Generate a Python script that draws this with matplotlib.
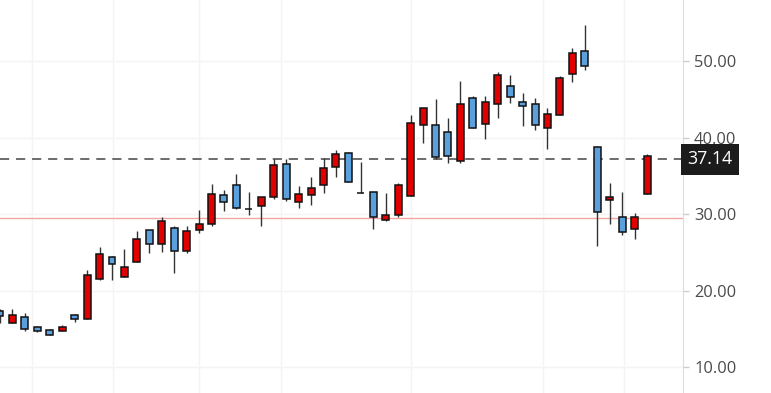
import matplotlib
matplotlib.use("Agg")
import matplotlib.pyplot as plt
import matplotlib.transforms as mtransforms

# candle data (oldest first)
opens = [17.36, 15.80, 16.58, 15.27, 14.88, 14.75, 16.84, 16.32, 21.54, 24.41,
         21.80, 23.76, 27.94, 26.11, 28.20, 25.20, 27.94, 28.72, 32.51, 33.81,
         30.68, 31.07, 32.25, 36.55, 31.59, 32.51, 33.81, 36.16, 37.99, 32.77,
         32.90, 29.24, 29.90, 32.38, 41.64, 41.64, 40.73, 36.95, 45.17, 41.78,
         44.39, 46.74, 44.65, 44.39, 41.25, 42.95, 48.30, 51.31, 38.77, 31.85,
         29.63, 28.07, 32.64]
highs = [17.62, 17.62, 17.10, 15.40, 15.01, 15.53, 16.97, 22.72, 25.72, 24.54,
         25.46, 27.81, 27.94, 29.63, 28.46, 28.46, 30.55, 33.94, 33.16, 35.25,
         32.90, 32.25, 37.21, 37.21, 33.68, 34.86, 37.34, 38.38, 38.12, 36.81,
         32.90, 32.77, 34.07, 42.95, 43.86, 45.04, 42.56, 47.39, 45.43, 45.43,
         48.56, 48.17, 45.82, 45.17, 43.86, 48.04, 51.70, 54.70, 38.90, 34.07,
         32.90, 30.16, 37.86]
lows = [15.80, 15.80, 14.75, 14.62, 14.23, 14.75, 15.93, 16.32, 21.41, 21.41,
        21.80, 23.76, 24.93, 25.07, 22.32, 24.93, 27.55, 28.46, 30.42, 30.68,
        29.90, 28.46, 31.98, 31.72, 30.81, 31.20, 32.77, 34.86, 34.20, 32.77,
        28.07, 29.11, 29.63, 32.38, 39.30, 37.21, 36.68, 36.68, 41.25, 39.82,
        42.56, 44.52, 41.51, 40.99, 38.51, 42.95, 47.26, 48.83, 25.85, 28.72,
        27.28, 26.76, 32.64]
closes = [16.71, 16.84, 15.01, 14.75, 14.23, 15.27, 16.32, 22.06, 24.80, 23.50,
          23.11, 26.76, 26.11, 29.11, 25.20, 27.81, 28.72, 32.64, 31.59, 30.81,
          30.68, 32.25, 36.42, 31.98, 32.64, 33.42, 36.03, 37.86, 34.20, 32.77,
          29.63, 29.90, 33.81, 41.91, 43.86, 37.47, 37.60, 44.39, 41.25, 44.65,
          48.17, 45.30, 44.13, 41.64, 43.08, 47.78, 51.04, 49.35, 30.29, 32.25,
          27.68, 29.63, 37.60]

last_price = 37.14
ref_line = 29.50
y_ticks = [10, 20, 30, 40, 50]
# date gridlines (in candle index units)
date_grid = [2.57, 9.08, 15.99, 22.58, 33.03, 43.64, 50.15]

up_color = "#e00000"
down_color = "#5aa0dc"

fig = plt.figure(figsize=(7.71, 3.93), dpi=100)
ax = fig.add_axes([0, 0, 683 / 771, 1])

x = list(range(len(opens)))

# wicks
ax.vlines(x, lows, highs, color="#333333", linewidth=1, zorder=3)

# bodies
bottoms = []
heights = []
colors = []
for o, c in zip(opens, closes):
    bottoms.append(min(o, c))
    heights.append(max(abs(c - o), 0.05))
    colors.append(up_color if c >= o else down_color)
ax.bar(x, heights, bottom=bottoms, width=0.56, color=colors,
       edgecolor="#111111", linewidth=1.1, zorder=4)

# reference lines
ax.axhline(ref_line, color="#f2a5a5", linewidth=1, zorder=2)
ax.axhline(last_price, color="#444444", linewidth=1.1,
           dashes=(6, 4.5), zorder=2)

ax.set_xlim(0, 54.89)
ax.set_ylim(6.66, 57.96)

ax.set_xticks(date_grid)
ax.set_xticklabels([])
ax.tick_params(axis="x", length=0)
ax.set_yticks(y_ticks)
ax.set_yticklabels(["%.2f" % v for v in y_ticks])
ax.yaxis.tick_right()
ax.tick_params(axis="y", length=4, width=1, color="#cccccc", pad=4,
               labelsize=11.8, labelcolor="#4a4a4a")
for lab in ax.get_yticklabels():
    lab.set_fontfamily("Open Sans")

ax.grid(True, color="#f4f4f4", linewidth=1, zorder=0)
ax.set_axisbelow(True)

for side in ["top", "left", "bottom"]:
    ax.spines[side].set_visible(False)
ax.spines["right"].set_color("#dcdcdc")

# price label box on the axis
trans = mtransforms.blended_transform_factory(ax.transAxes, ax.transData)
ax.annotate("%.2f" % last_price, xy=(1, last_price), xycoords=trans,
            xytext=(3, 0), textcoords="offset points",
            ha="left", va="center", color="white", fontsize=12.8,
            fontfamily="Open Sans", annotation_clip=False, zorder=10,
            bbox=dict(boxstyle="square,pad=0.36", facecolor="#1c1c1c",
                      edgecolor="none"))

fig.savefig("out.png", dpi=100)
